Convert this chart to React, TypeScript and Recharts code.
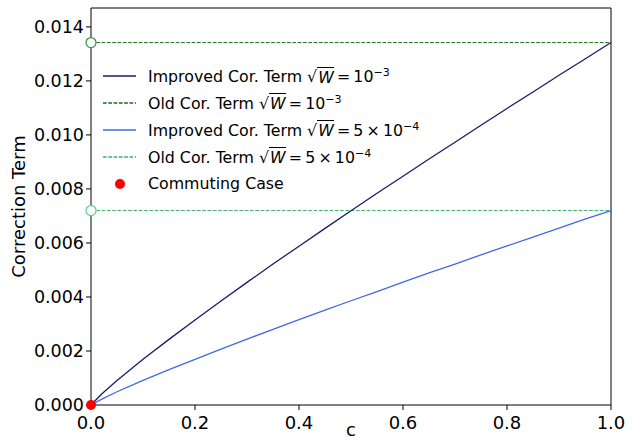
import {
  ComposedChart,
  Line,
  ReferenceLine,
  Scatter,
  XAxis,
  YAxis,
} from 'recharts';

// values
const C_VALUES = [0, 0.02, 0.05, 0.1, 0.15, 0.2, 0.25, 0.3, 0.35, 0.4, 0.45, 0.5, 0.55, 0.6, 0.65, 0.7, 0.75, 0.8, 0.85, 0.9, 0.95, 1.0];
const IMPROVED_1E3 = [0, 0.0004, 0.00091, 0.00169, 0.00243, 0.00315, 0.00385, 0.00454, 0.00522, 0.00588, 0.00654, 0.00719, 0.00784, 0.00847, 0.00911, 0.00973, 0.01036, 0.01098, 0.01159, 0.01221, 0.01281, 0.01342];
const IMPROVED_5E4 = [0, 0.00021, 0.00049, 0.00091, 0.00131, 0.00169, 0.00207, 0.00244, 0.0028, 0.00316, 0.00351, 0.00386, 0.0042, 0.00455, 0.00489, 0.00522, 0.00556, 0.00589, 0.00622, 0.00655, 0.00688, 0.0072];
const OLD_1E3 = 0.01342;
const OLD_5E4 = 0.0072;
const COMMUTING = [{ c: 0, y: 0 }];

const X_TICKS = [0, 0.2, 0.4, 0.6, 0.8, 1.0];
const Y_TICKS = [0, 0.002, 0.004, 0.006, 0.008, 0.01, 0.012, 0.014];
const Y_MAX = 0.0147;

const NAVY = '#1c1a6e';
const ROYAL = '#4169e1';
const DARK_GREEN = '#1a6b1a';
const SEA_GREEN = '#3cb371';

const FONT = '"DejaVu Sans", sans-serif';
const THIN = '\u2009';

const LEGEND_ITEMS = [
  { label: 'Improved Cor. Term', value: ['10', '−3'], color: NAVY, kind: 'line' },
  { label: 'Old Cor. Term', value: ['10', '−3'], color: DARK_GREEN, kind: 'dash' },
  { label: 'Improved Cor. Term', value: [`5${THIN}×${THIN}10`, '−4'], color: ROYAL, kind: 'line' },
  { label: 'Old Cor. Term', value: [`5${THIN}×${THIN}10`, '−4'], color: SEA_GREEN, kind: 'dash' },
  { label: 'Commuting Case', value: null, color: 'red', kind: 'dot' },
];

const data = C_VALUES.map((c, i) => ({ c, imp1: IMPROVED_1E3[i], imp2: IMPROVED_5E4[i] }));
const oldTop = [{ c: 0, y: OLD_1E3 }, { c: 1, y: OLD_1E3 }];
const oldBottom = [{ c: 0, y: OLD_5E4 }, { c: 1, y: OLD_5E4 }];

function firstDot(edge: string) {
  return (p: any) =>
    p.index === 0 ? (
      <circle key={p.index} cx={p.cx} cy={p.cy} r={5} fill="#fff" stroke={edge} strokeWidth={1.2} />
    ) : (
      <g key={p.index} />
    );
}

function LegendBox() {
  return (
    <div style={{ position: 'absolute', left: 101, top: 63, fontFamily: FONT, fontSize: 15.8, color: '#000' }}>
      {LEGEND_ITEMS.map((it, i) => (
        <div key={i} style={{ display: 'flex', alignItems: 'center', height: 26.8 }}>
          <svg width={47} height={12} style={{ flex: 'none' }}>
            {it.kind === 'dot' ? (
              <circle cx={19} cy={6} r={5} fill="red" />
            ) : (
              <line
                x1={2}
                x2={35}
                y1={6}
                y2={6}
                stroke={it.color}
                strokeWidth={1.3}
                strokeDasharray={it.kind === 'dash' ? '3.7 1.6' : undefined}
              />
            )}
          </svg>
          <span style={{ whiteSpace: 'nowrap', lineHeight: 1 }}>
            {it.label}
            {it.value && (
              <>
                {' '}√<span style={{ fontStyle: 'italic', borderTop: '1px solid #000', paddingLeft: 1 }}>W</span>
                {`${THIN}=${THIN}`}
                {it.value[0]}
                <sup style={{ fontSize: '0.7em' }}>{it.value[1]}</sup>
              </>
            )}
          </span>
        </div>
      ))}
    </div>
  );
}

export default function App() {
  return (
    <div style={{ position: 'absolute', left: 0, top: 0, width: 638, height: 445, background: '#fff' }}>
      <ComposedChart width={638} height={445} data={data} margin={{ top: 8, right: 27, bottom: 6, left: 0 }}>
        <XAxis
          dataKey="c"
          type="number"
          domain={[0, 1]}
          ticks={X_TICKS}
          tickFormatter={(v) => Number(v).toFixed(1)}
          tick={{ fontSize: 18, fill: '#000', fontFamily: FONT }}
          tickSize={5}
          tickMargin={6}
          stroke="#000"
          height={34}
          label={{ value: 'c', position: 'insideBottom', offset: 3, fontSize: 18, fill: '#000', fontFamily: FONT }}
        />
        <YAxis
          type="number"
          domain={[0, Y_MAX]}
          ticks={Y_TICKS}
          tickFormatter={(v) => Number(v).toFixed(3)}
          tick={{ fontSize: 17.5, fill: '#000', fontFamily: FONT }}
          tickSize={5}
          tickMargin={2}
          stroke="#000"
          width={91}
          label={{
            value: 'Correction Term',
            angle: -90,
            position: 'insideLeft',
            offset: 19,
            style: { textAnchor: 'middle' },
            fontSize: 18,
            fill: '#000',
            fontFamily: FONT,
          }}
        />
        <ReferenceLine y={Y_MAX} stroke="#000" strokeWidth={1} />
        <ReferenceLine x={1} stroke="#000" strokeWidth={1} />
        <Line
          data={oldTop}
          dataKey="y"
          stroke={DARK_GREEN}
          strokeWidth={1}
          strokeDasharray="3.7 1.6"
          dot={firstDot('#2a9a3a')}
          isAnimationActive={false}
        />
        <Line
          data={oldBottom}
          dataKey="y"
          stroke={SEA_GREEN}
          strokeWidth={1}
          strokeDasharray="3.7 1.6"
          dot={firstDot('#5ccf8a')}
          isAnimationActive={false}
        />
        <Line dataKey="imp1" type="linear" stroke={NAVY} strokeWidth={1.3} dot={false} isAnimationActive={false} />
        <Line dataKey="imp2" type="linear" stroke={ROYAL} strokeWidth={1.3} dot={false} isAnimationActive={false} />
        <Scatter
          data={COMMUTING}
          dataKey="y"
          fill="red"
          shape={(p: any) => <circle cx={p.cx} cy={p.cy} r={5} fill="red" />}
          isAnimationActive={false}
        />
      </ComposedChart>
      <LegendBox />
    </div>
  );
}
